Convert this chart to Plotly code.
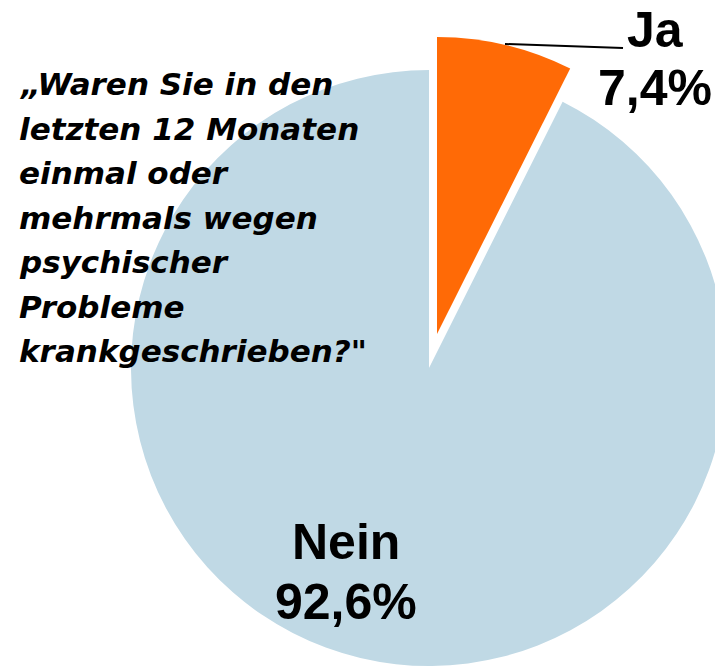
import plotly.graph_objects as go

# ---------------------------------------------
# Data
# ---------------------------------------------
labels = ["Ja", "Nein"]
values = [7.4, 92.6]
colors = ["#FF6A06", "#C0D9E5"]

question_lines = [
    "„Waren Sie in den",
    "letzten 12 Monaten",
    "einmal oder",
    "mehrmals wegen",
    "psychischer",
    "Probleme",
    'krankgeschrieben?"',
]

# figure is a bit bigger than the window; the page puts it 8px in from the corner
W, H = 745, 690
OFF = 8
CLEAR = "rgba(0,0,0,0)"


def pct(v):
    return f"{v:.1f}%".replace(".", ",")


def px(x):
    return (x - OFF) / W


def py(y):
    return 1 - (y - OFF) / H


def domain(cx, cy, r):
    # window-pixel centre/radius -> paper domain (margins are 0)
    return dict(x=[px(cx - r), px(cx + r)], y=[py(cy + r), py(cy - r)])


fig = go.Figure()

# big slice (Nein)
fig.add_trace(go.Pie(
    labels=labels, values=values, sort=False, direction="clockwise", rotation=0,
    marker=dict(colors=[CLEAR, colors[1]], line=dict(width=0)),
    textinfo="none", hoverinfo="skip", showlegend=False,
    domain=domain(429, 368, 298),
))

# exploded small slice (Ja), drawn as its own pie shifted outwards
fig.add_trace(go.Pie(
    labels=labels, values=values, sort=False, direction="clockwise", rotation=0,
    marker=dict(colors=[colors[0], CLEAR], line=dict(width=0)),
    textinfo="none", hoverinfo="skip", showlegend=False,
    domain=domain(437, 334, 297),
))

big = dict(family="Liberation Sans, Arial, sans-serif", size=50, color="black")

annotations = []
# Nein label
for txt, y in [(labels[1], 541.5), (pct(values[1]), 601.5)]:
    annotations.append(dict(text=f"<b>{txt}</b>", x=px(346), y=py(y),
                            xref="paper", yref="paper", xanchor="center", yanchor="middle",
                            showarrow=False, font=big))
# Ja label
for txt, y in [(labels[0], 30), (pct(values[0]), 87.5)]:
    annotations.append(dict(text=f"<b>{txt}</b>", x=px(655), y=py(y),
                            xref="paper", yref="paper", xanchor="center", yanchor="middle",
                            showarrow=False, font=big))

# question text, one annotation per line
for i, line in enumerate(question_lines):
    y = 84 + i * 44.5
    annotations.append(dict(text=line, x=px(17), y=py(y),
                            xref="paper", yref="paper", xanchor="left", yanchor="middle",
                            showarrow=False,
                            font=dict(family="DejaVu Sans, sans-serif", size=31,
                                      color="black", weight="bold", style="italic")))

fig.update_layout(
    width=W, height=H,
    margin=dict(l=0, r=0, t=0, b=0),
    paper_bgcolor="white", plot_bgcolor="white",
    annotations=annotations,
    shapes=[dict(type="line", xref="paper", yref="paper",
                 x0=px(505), y0=py(44), x1=px(623), y1=py(48),
                 line=dict(color="black", width=2))],
)

fig.write_html("out.html")
